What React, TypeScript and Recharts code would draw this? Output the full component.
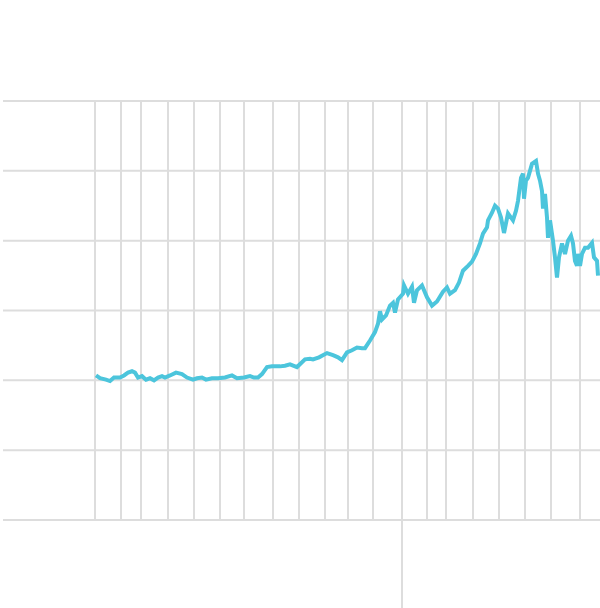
import { LineChart, Line, XAxis, YAxis, CartesianGrid, ReferenceLine } from 'recharts';

// x positions along the time axis (arbitrary units), index levels
const xs = [
  93, 97, 103, 107, 111, 117, 121, 125, 129, 132, 135, 139, 143, 147, 151, 155, 159, 162, 167, 173,
  179, 184, 190, 194, 199, 203, 209, 215, 222, 229, 234, 241, 247, 251, 255, 259, 264, 269, 273, 277,
  282, 287, 294, 302, 307, 310, 316, 324, 330, 335, 339, 344, 349, 354, 359, 362, 367, 372, 375, 377,
  379, 383, 387, 390, 392, 395, 400, 401, 405, 409, 411, 414, 419, 424, 429, 434, 440, 444, 447, 452,
  456, 460, 465, 469, 473, 477, 480, 484, 485, 489, 492, 495, 498, 501, 505, 510, 513, 515, 518, 520,
  521, 523, 525, 529, 533, 535, 537, 539, 540, 542, 544, 545, 547, 550, 552, 554, 556, 559, 562, 565,
  568, 570, 572, 574, 575, 577, 579, 582, 585, 589, 591, 594, 595,
];
const values = [
  207, 203, 201, 199, 204, 204, 207, 211, 213, 211, 204, 206, 201, 203, 200, 204, 206, 204, 207, 211,
  209, 204, 201, 203, 204, 201, 203, 203, 204, 207, 203, 204, 206, 204, 204, 209, 219, 220, 220, 220,
  221, 223, 219, 230, 231, 230, 233, 239, 236, 233, 229, 240, 243, 247, 246, 246, 257, 269, 281, 299,
  287, 293, 307, 311, 297, 316, 324, 336, 324, 334, 311, 329, 336, 319, 307, 313, 327, 333, 324, 329,
  340, 357, 364, 370, 381, 396, 410, 419, 429, 440, 450, 446, 433, 411, 439, 429, 443, 457, 490, 496,
  460, 486, 490, 510, 514, 496, 486, 471, 446, 467, 433, 404, 429, 400, 376, 347, 376, 396, 381, 400,
  407, 396, 371, 364, 381, 364, 381, 390, 390, 397, 376, 371, 350,
];
const xTicks = [92, 118, 138, 165, 191, 217, 241, 270, 296, 322, 345, 370, 399, 424, 443, 470, 496, 522, 548, 577];
const yTicks = [0, 100, 200, 300, 400, 500, 600];
const X_MAX = 597;
const Y_MAX = 600;
const markerX = 399;

const data = xs.map((x, i) => ({ x, value: values[i] }));

// grid only at our ticks (default generator adds lines at the plot edges)
const vGen = ({ offset }: any) => xTicks.map((t) => offset.left + (offset.width * t) / X_MAX);
const hGen = ({ offset }: any) => yTicks.map((t) => offset.top + offset.height * (1 - t / Y_MAX));

export default function App() {
  return (
    <div style={{ position: 'absolute', left: 0, top: 0, width: 600, height: 608, background: '#fff' }}>
      <LineChart width={600} height={608} data={data} margin={{ top: 101, right: 0, left: 3, bottom: 88 }}>
        <CartesianGrid
          stroke="#dddddd"
          strokeWidth={2}
          verticalCoordinatesGenerator={vGen}
          horizontalCoordinatesGenerator={hGen}
        />
        <XAxis dataKey="x" type="number" domain={[0, X_MAX]} ticks={xTicks} interval={0} hide />
        <YAxis type="number" domain={[0, Y_MAX]} ticks={yTicks} interval={0} hide />
        <ReferenceLine
          segment={[{ x: markerX, y: 0 }, { x: markerX, y: -130 }]}
          stroke="#dddddd"
          strokeWidth={2}
          ifOverflow="visible"
        />
        <Line
          type="linear"
          dataKey="value"
          stroke="#4cc5dc"
          strokeWidth={4}
          dot={false}
          isAnimationActive={false}
        />
      </LineChart>
    </div>
  );
}
